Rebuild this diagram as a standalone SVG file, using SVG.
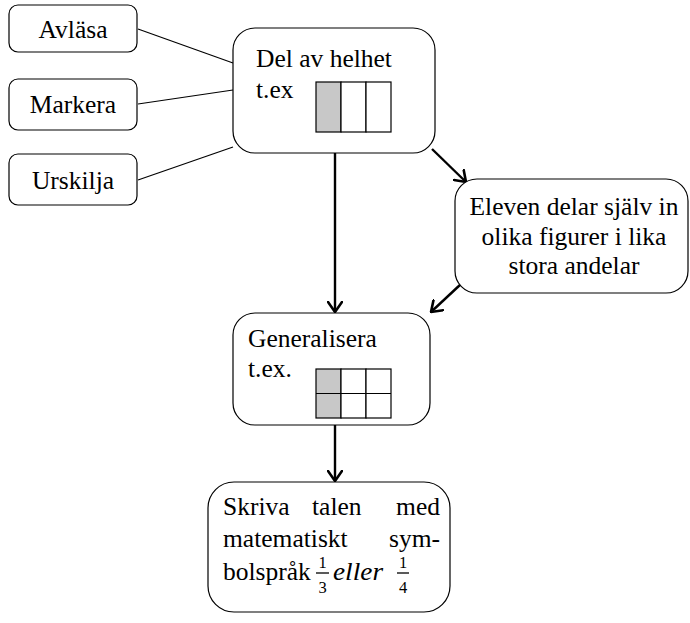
<svg xmlns="http://www.w3.org/2000/svg" width="690" height="623" viewBox="0 0 690 623">
  <style>
    .box { fill: #ffffff; stroke: #000000; stroke-width: 1.2; }
    .txt { font-family: "Liberation Serif", "Times New Roman", Tinos, "DejaVu Serif", serif; font-size: 25.5px; fill: #000000; }
    .mid { text-anchor: middle; }
    .link { stroke: #000000; stroke-width: 1.2; fill: none; }
    .arrow { stroke: #000000; stroke-width: 2.4; fill: none; marker-end: url(#head); }
    .cell { fill: #ffffff; stroke: #000000; stroke-width: 1.2; }
    .shade { fill: #c8c8c8; }
    .frac { font-family: "Liberation Serif", "Times New Roman", "DejaVu Serif", serif; font-size: 16.5px; text-anchor: middle; fill: #000000; }
    .bar { stroke: #000000; stroke-width: 1.3; }
    .math { font-family: "Liberation Serif", "Times New Roman", "DejaVu Serif", serif; font-style: italic; font-size: 25.5px; fill: #000000; }
  </style>
  <defs>
    <marker id="head" viewBox="0 0 12 16" refX="11" refY="8" markerWidth="12" markerHeight="16" markerUnits="userSpaceOnUse" orient="auto">
      <path d="M1,1 L11,8 L1,15" fill="none" stroke="#000000" stroke-width="2.6" stroke-linecap="round" stroke-linejoin="miter"/>
    </marker>
  </defs>

  <!-- connectors -->
  <g id="connectors">
    <line class="link" x1="138" y1="29" x2="233" y2="63"/>
    <line class="link" x1="138" y1="104" x2="233" y2="90"/>
    <line class="link" x1="138" y1="180" x2="233" y2="147"/>
    <line class="arrow" x1="335" y1="153" x2="335" y2="312"/>
    <line class="arrow" x1="432" y1="149" x2="466" y2="182"/>
    <line class="arrow" x1="461" y1="284" x2="431" y2="312"/>
    <line class="arrow" x1="335" y1="425" x2="335" y2="481"/>
  </g>

  <!-- side labels -->
  <g id="avlasa">
    <rect class="box" x="9" y="5" width="128" height="47" rx="9"/>
    <text class="txt mid" x="73" y="38">Avläsa</text>
  </g>
  <g id="markera">
    <rect class="box" x="9" y="79" width="128" height="51" rx="9"/>
    <text class="txt mid" x="73" y="113">Markera</text>
  </g>
  <g id="urskilja">
    <rect class="box" x="9" y="154" width="128" height="51" rx="9"/>
    <text class="txt mid" x="73" y="189">Urskilja</text>
  </g>

  <!-- part of a whole -->
  <g id="del-av-helhet">
    <rect class="box" x="233" y="28" width="202" height="125" rx="22"/>
    <text class="txt" x="256" y="67">Del av helhet</text>
    <text class="txt" x="256" y="98">t.ex</text>
    <rect class="cell shade" x="316" y="82" width="25" height="50"/>
    <rect class="cell" x="341" y="82" width="25" height="50"/>
    <rect class="cell" x="366" y="82" width="25" height="50"/>
  </g>

  <!-- pupil divides shapes -->
  <g id="eleven">
    <rect class="box" x="455" y="179" width="233" height="114" rx="22"/>
    <text class="txt mid" x="574" y="215">Eleven delar själv in</text>
    <text class="txt mid" x="574" y="245">olika figurer i lika</text>
    <text class="txt mid" x="574" y="274">stora andelar</text>
  </g>

  <!-- generalise -->
  <g id="generalisera">
    <rect class="box" x="233" y="313" width="197" height="112" rx="22"/>
    <text class="txt" x="248" y="347">Generalisera</text>
    <text class="txt" x="248" y="377">t.ex.</text>
    <rect class="cell shade" x="316" y="369" width="25" height="49"/>
    <rect class="cell" x="341" y="369" width="25" height="49"/>
    <rect class="cell" x="366" y="369" width="25" height="49"/>
    <line class="link" x1="316" y1="393.5" x2="391" y2="393.5"/>
  </g>

  <!-- write with symbols (justified lines) -->
  <g id="skriva">
    <rect class="box" x="208" y="482" width="242" height="130" rx="26"/>
    <text class="txt" x="223" y="515">Skriva</text>
    <text class="txt" x="312" y="515">talen</text>
    <text class="txt" x="440" y="515" text-anchor="end">med</text>
    <text class="txt" x="223" y="547">matematiskt</text>
    <text class="txt" x="440" y="547" text-anchor="end">sym-</text>
    <text class="txt" x="223" y="580">bolspråk</text>
    <text class="frac" x="322.5" y="568">1</text>
    <line class="bar" x1="316" y1="573" x2="329" y2="573"/>
    <text class="frac" x="322.5" y="593">3</text>
    <text class="math" x="333" y="580" textLength="50" lengthAdjust="spacingAndGlyphs">eller</text>
    <text class="frac" x="403" y="568">1</text>
    <line class="bar" x1="397" y1="573" x2="409" y2="573"/>
    <text class="frac" x="403" y="593">4</text>
  </g>
</svg>
